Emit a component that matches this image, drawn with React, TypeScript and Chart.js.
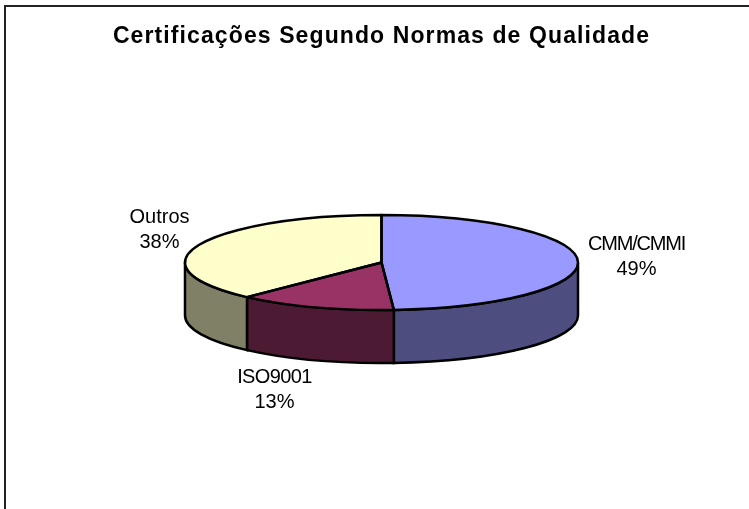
import React, { useEffect, useRef } from "react";
import { Chart, registerables } from "chart.js";

Chart.register(...registerables);

const titleText = "Certificações Segundo Normas de Qualidade";
const categories = ["CMM/CMMI", "ISO9001", "Outros"];
const shares = [49, 13, 38];
const topColors = ["#9999FF", "#993366", "#FFFFCC"];
const wallColors = ["#4D4D80", "#4C1A33", "#808066"];

const CY = 262.5;
const RADIUS = 196.5;
const SQUASH = 47.5 / RADIUS;
const DEPTH = 53;
const labelAnchors = [
  { x: 636.5, y: 244, spacing: "-1.2px" },
  { x: 274.5, y: 377, spacing: "-0.6px" },
  { x: 159.5, y: 217, spacing: "0px" },
];

function norm(a: number) {
  return a < -Math.PI / 2 - 1e-6 ? a + Math.PI * 2 : a;
}

function wallPath(ctx: CanvasRenderingContext2D, arc: any, s: number, e: number) {
  const rx = arc.outerRadius;
  const ry = rx * SQUASH;
  ctx.ellipse(arc.x, CY, rx, ry, 0, s, e);
  ctx.lineTo(arc.x + rx * Math.cos(e), CY + ry * Math.sin(e) + DEPTH);
  ctx.ellipse(arc.x, CY + DEPTH, rx, ry, 0, e, s, true);
  ctx.closePath();
}

const pie3d = {
  id: "pie3d",
  beforeDraw(chart: any) {
    const { ctx, width, height } = chart;
    ctx.save();
    ctx.fillStyle = "#fff";
    ctx.fillRect(0, 0, width, height);
    ctx.strokeStyle = "#222";
    ctx.lineWidth = 2;
    ctx.beginPath();
    ctx.moveTo(5, height);
    ctx.lineTo(5, 6);
    ctx.lineTo(width, 6);
    ctx.stroke();
    ctx.restore();
    (ctx as any).letterSpacing = "1.1px";
  },
  beforeDatasetsDraw(chart: any) {
    const { ctx } = chart;
    (ctx as any).letterSpacing = "0px";
    const arcs = chart.getDatasetMeta(0).data;
    const a0 = arcs[0];
    ctx.save();
    arcs.forEach((arc: any, i: number) => {
      const s = Math.max(norm(arc.startAngle), 0);
      const e = Math.min(norm(arc.endAngle), Math.PI);
      if (e <= s) return;
      ctx.beginPath();
      wallPath(ctx, arc, s, e);
      ctx.fillStyle = wallColors[i];
      ctx.fill();
      ctx.strokeStyle = "#000";
      ctx.lineWidth = 2.5;
      ctx.stroke();
    });
    ctx.restore();
    ctx.save();
    ctx.translate(0, CY);
    ctx.scale(1, SQUASH);
    ctx.translate(0, -a0.y);
  },
  afterDatasetsDraw(chart: any) {
    const { ctx } = chart;
    ctx.restore();
    const arcs = chart.getDatasetMeta(0).data;
    ctx.save();
    ctx.strokeStyle = "#000";
    ctx.lineWidth = 2.5;
    ctx.lineJoin = "round";
    arcs.forEach((arc: any) => {
      ctx.beginPath();
      ctx.ellipse(arc.x, CY, arc.outerRadius, arc.outerRadius * SQUASH, 0, arc.startAngle, arc.endAngle);
      ctx.lineTo(arc.x, CY);
      ctx.closePath();
      ctx.stroke();
    });
    ctx.fillStyle = "#000";
    ctx.font = '20px "Liberation Sans"';
    ctx.textAlign = "center";
    ctx.textBaseline = "middle";
    const total = shares.reduce((a, b) => a + b, 0);
    categories.forEach((name, i) => {
      const p = labelAnchors[i];
      (ctx as any).letterSpacing = p.spacing;
      ctx.fillText(name, p.x, p.y);
      (ctx as any).letterSpacing = "0px";
      ctx.fillText(Math.round((shares[i] / total) * 100) + "%", p.x, p.y + 25);
    });
    ctx.restore();
  },
};

export default function App() {
  const ref = useRef<HTMLCanvasElement>(null);
  useEffect(() => {
    if (!ref.current) return;
    const chart = new Chart(ref.current, {
      type: "pie",
      data: {
        labels: categories,
        datasets: [{ data: shares, backgroundColor: topColors, borderWidth: 0, radius: RADIUS }],
      },
      options: {
        animation: false,
        responsive: false,
        layout: { padding: { left: 14, right: 0, top: 0, bottom: 0 } },
        plugins: {
          legend: { display: false },
          tooltip: { enabled: false },
          title: {
            display: true,
            text: titleText,
            color: "#000",
            font: { family: '"Liberation Sans"', size: 23, weight: "bold" },
            padding: { top: 23, bottom: 10 },
          },
        },
      },
      plugins: [pie3d],
    } as any);
    return () => chart.destroy();
  }, []);
  return (
    <canvas
      ref={ref}
      width={749}
      height={509}
      style={{ position: "fixed", left: 0, top: 0, display: "block" }}
    />
  );
}
